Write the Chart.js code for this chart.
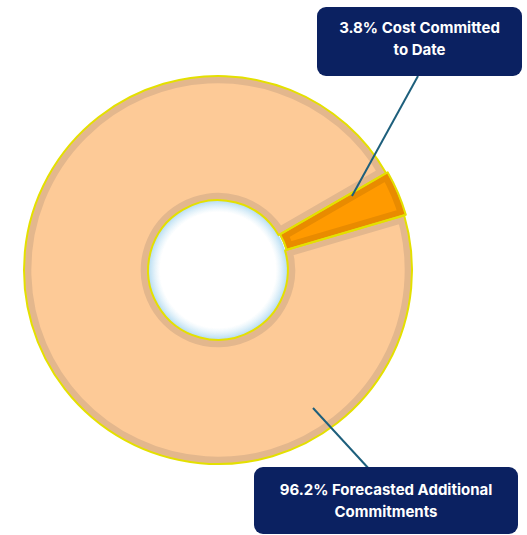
<!DOCTYPE html>
<html>
<head>
<meta charset="utf-8">
<script src="https://cdn.jsdelivr.net/npm/chart.js@4"></script>
<style>
  html, body { margin: 0; padding: 0; background: #fff; }
  #wrap { position: relative; width: 527px; height: 535px; }
  canvas { position: absolute; left: 0; top: 0; }
  .callout {
    position: absolute; box-sizing: border-box;
    background: #0b2161; color: #fff; border-radius: 9px;
    font-family: "Inter", "Liberation Sans", sans-serif; font-weight: 700;
    font-size: 15px; line-height: 22px; text-align: center;
    display: flex; align-items: center; justify-content: center;
  }
  .callout span { display: block; }
</style>
</head>
<body>
<div id="wrap">
  <canvas id="chart" width="527" height="535"></canvas>
  <div class="callout" id="label-0" style="left:317px;top:7px;width:205px;height:69px;padding-bottom:6px;"><span style="max-width:175px"></span></div>
  <div class="callout" id="label-1" style="left:254px;top:467px;width:264px;height:67px;"><span style="max-width:230px"></span></div>
</div>
<script>
(function () {
  "use strict";
  const categories = ["Cost Committed to Date", "Forecasted Additional Commitments"];
  const shares = [3.8, 96.2];
  const fills = ["#ff9a00", "#fdca97"];
  const edges = ["#e98b00", "#e3b78d"];

  categories.forEach((name, i) => {
    document.querySelector("#label-" + i + " span").textContent =
      shares[i].toFixed(1) + "% " + name;
  });

  // leader lines from each slice to its callout box
  const leaders = [
    { from: [352, 196], to: [418, 76] },
    { from: [313, 408], to: [370, 470] },
  ];

  function arcPath(ctx, el) {
    const p = el.getProps(["x", "y", "startAngle", "endAngle", "innerRadius", "outerRadius", "circumference"], true);
    const off = (el.options.offset || 0) / 4;
    const mid = (p.startAngle + p.endAngle) / 2;
    const fix = 1 - Math.sin(Math.min(Math.PI, p.circumference || 0));
    const d = off + off * fix;
    const cx = p.x + Math.cos(mid) * d, cy = p.y + Math.sin(mid) * d;
    ctx.beginPath();
    ctx.arc(cx, cy, p.outerRadius, p.startAngle, p.endAngle);
    ctx.arc(cx, cy, p.innerRadius, p.endAngle, p.startAngle, true);
    ctx.closePath();
  }

  const outline = {
    id: "outline",
    afterDatasetsDraw(chart) {
      const ctx = chart.ctx;
      const arcs = chart.getDatasetMeta(0).data;
      ctx.save();
      // soft blue glow inside the hole
      const big = arcs[1].getProps(["x", "y", "innerRadius"], true);
      const g = ctx.createRadialGradient(big.x, big.y, big.innerRadius - 12, big.x, big.y, big.innerRadius);
      g.addColorStop(0, "rgba(200,230,245,0)");
      g.addColorStop(1, "rgba(170,215,240,0.9)");
      ctx.fillStyle = g;
      ctx.beginPath();
      ctx.arc(big.x, big.y, big.innerRadius, 0, Math.PI * 2);
      ctx.fill();
      ctx.strokeStyle = "#e4e000";
      ctx.lineWidth = 2;
      ctx.lineJoin = "round";
      [1, 0].forEach((i) => {
        arcPath(ctx, arcs[i]);
        ctx.stroke();
      });
      ctx.strokeStyle = "#1d5f7c";
      ctx.lineWidth = 2;
      leaders.forEach((l) => {
        ctx.beginPath();
        ctx.moveTo(l.from[0], l.from[1]);
        ctx.lineTo(l.to[0], l.to[1]);
        ctx.stroke();
      });
      ctx.restore();
    },
  };

  new Chart(document.getElementById("chart"), {
    type: "doughnut",
    data: {
      labels: categories,
      datasets: [{
        data: shares,
        backgroundColor: fills,
        borderColor: edges,
        borderWidth: 7,
        borderAlign: "inner",
        offset: [4, 0],
      }],
    },
    options: {
      responsive: false,
      animation: false,
      rotation: 60,
      cutout: "36%",
      layout: { padding: { left: 22, right: 113, top: 74, bottom: 69 } },
      plugins: { legend: { display: false }, tooltip: { enabled: false } },
    },
    plugins: [outline],
  });
})();
</script>
</body>
</html>
